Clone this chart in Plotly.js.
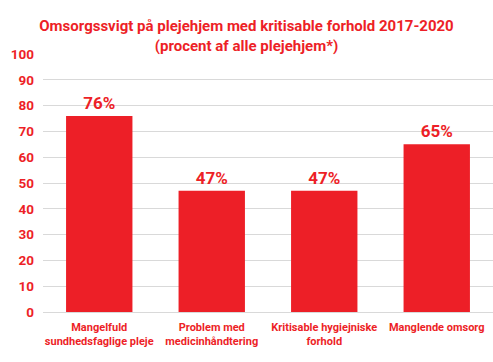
<!DOCTYPE html>
<html><head><meta charset="utf-8">
<script src="https://cdn.plot.ly/plotly-3.0.1.min.js"></script>
<style>html,body{margin:0;padding:0;background:#fff}#c{width:493px;height:362px}</style>
</head><body><div id="c"></div>
<script>
const categories = ["Mangelfuld<br>sundhedsfaglige pleje","Problem med<br>medicinhåndtering","Kritisable hygiejniske<br>forhold","Manglende omsorg"];
const values = [76, 47, 47, 65];
const labels = ["76%","47%","47%","65%"];
const yTicks = [0,10,20,30,40,50,60,70,80,90,100];
const red = "#ED1F27";
const font = "Roboto, 'Open Sans', sans-serif";
Plotly.newPlot("c", [{
  type: "bar", x: categories, y: values, text: labels, textposition: "outside",
  textfont: {family: font, size: 17, color: red, weight: "bold"},
  marker: {color: red}, cliponaxis: false, hoverinfo: "none"
}], {
  width: 493, height: 362,
  margin: {l: 43, r: 0, t: 54, b: 50},
  paper_bgcolor: "#fff", plot_bgcolor: "#fff",
  bargap: 0.41,
  title: {text: "Omsorgssvigt på plejehjem med kritisable forhold 2017-2020<br>(procent af alle plejehjem*)",
    font: {family: font, size: 15, color: red, weight: "bold"}, x: 0.5, xanchor: "center", y: 0.913, yanchor: "middle"},
  xaxis: {tickfont: {family: font, size: 11, color: red, weight: "bold"}, tickangle: 0, showline: false, ticks: "", ticklabelstandoff: 7},
  yaxis: {range: [0, 100], tickvals: yTicks, showgrid: true, gridcolor: "#d9d9d9", gridwidth: 1,
    zeroline: true, zerolinecolor: "#d9d9d9", zerolinewidth: 1,
    tickfont: {family: font, size: 13.5, color: red, weight: "bold"}, ticks: "", ticklabelstandoff: 8},
  showlegend: false
}, {staticPlot: true});
</script></body></html>
